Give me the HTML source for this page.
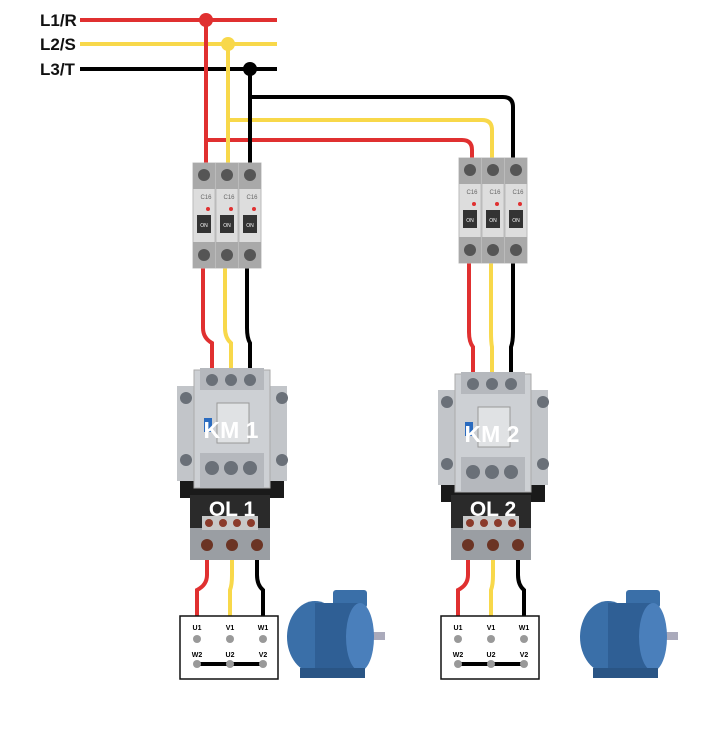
<!DOCTYPE html>
<html><head><meta charset="utf-8"><style>
html,body{margin:0;padding:0;background:#fff}
svg{display:block;font-family:"Liberation Sans",sans-serif}
</style></head><body>
<svg id="d" width="724" height="753" viewBox="0 0 724 753">
<g font-weight="bold" font-size="17" fill="#111">
<text x="40" y="26">L1/R</text><text x="40" y="50">L2/S</text><text x="40" y="75">L3/T</text>
</g>
<g stroke-width="4" fill="none">
<line x1="80" y1="20" x2="277" y2="20" stroke="#e03030"/>
<line x1="80" y1="44" x2="277" y2="44" stroke="#f8d84a"/>
<line x1="80" y1="69" x2="277" y2="69" stroke="#000"/>
</g>
<g stroke-width="4" fill="none">
<path d="M250 69 V97 H503 Q513 97 513 107 V165" stroke="#000"/>
<path d="M228 44 V120 H482 Q492 120 492 130 V165" stroke="#f8d84a"/>
<path d="M206 20 V140 H462 Q472 140 472 150 V165" stroke="#e03030"/>
</g>
<g id="c1"></g>
<g id="c2"></g>
<g>
<circle cx="206" cy="20" r="7" fill="#e03030"/><circle cx="228" cy="44" r="7" fill="#f8d84a"/><circle cx="250" cy="69" r="7" fill="#000"/>
</g>
</svg>
<script>
const NS='http://www.w3.org/2000/svg';
function el(p,t,a,txt){const e=document.createElementNS(NS,t);for(const k in a)e.setAttribute(k,a[k]);if(txt)e.textContent=txt;p.appendChild(e);return e;}
function circuit(g,o){
 const cols=['#e03030','#f8d84a','#000'];
 for(let i=0;i<3;i++){
  const bx=o.bx+10+i*22, kx=o.kx+i*19, ox=o.ox+i*25, tx=o.tx+i*33;
  el(g,'path',{d:`M${o.wx[i]} ${o.wy[i]} V${o.by} M${bx} ${o.by+100} V${o.ky-40} Q${bx} ${o.ky-30} ${kx} ${o.ky-25} V${o.ky+10}`,stroke:cols[i],'stroke-width':4,fill:'none'});
  el(g,'path',{d:`M${ox} 545 V575 Q${ox} 585 ${tx} 590 V625`,stroke:cols[i],'stroke-width':4,fill:'none'});
 }
 const b=el(g,'g',{});
 
 
 for(let i=0;i<3;i++){const x=o.bx+i*23;
  el(b,'rect',{x:x,y:o.by,width:22,height:105,fill:'#ddd',stroke:'#bbb'});
  el(b,'rect',{x:x,y:o.by,width:22,height:26,fill:'#a9a9a9'});
  el(b,'rect',{x:x,y:o.by+79,width:22,height:26,fill:'#a9a9a9'});
  el(b,'circle',{cx:x+11,cy:o.by+12,r:6,fill:'#555'});
  el(b,'circle',{cx:x+11,cy:o.by+92,r:6,fill:'#555'});
  el(b,'rect',{x:x+4,y:o.by+52,width:14,height:18,fill:'#333'});
  el(b,'text',{x:x+11,y:o.by+64,'font-size':5,fill:'#fff','text-anchor':'middle'},'ON');
  el(b,'text',{x:x+13,y:o.by+36,'font-size':6,fill:'#666','text-anchor':'middle'},'C16');
  el(b,'circle',{cx:x+15,cy:o.by+46,r:2,fill:'#e03030'});
 }
 const k=el(g,'g',{});
 
 
 const kx0=o.kx-30;
 el(k,'rect',{x:kx0-2,y:o.ky+90,width:104,height:40,fill:'#1a1a1a'});
 el(k,'rect',{x:kx0-5,y:o.ky+18,width:110,height:95,fill:'#c2c5c9'});
 el(k,'rect',{x:kx0+12,y:o.ky+2,width:76,height:118,fill:'#cdd0d4',stroke:'#aaa'});
 el(k,'rect',{x:kx0+18,y:o.ky,width:64,height:22,fill:'#b5b8bd'});
 el(k,'rect',{x:kx0+18,y:o.ky+85,width:64,height:35,fill:'#b5b8bd'});
 for(let i=0;i<3;i++){el(k,'circle',{cx:o.kx+i*19,cy:o.ky+12,r:6,fill:'#6a7078'});el(k,'circle',{cx:o.kx+i*19,cy:o.ky+100,r:7,fill:'#6a7078'});}
 for(const sx of [kx0-2,kx0+94]){el(k,'circle',{cx:sx+6,cy:o.ky+30,r:6,fill:'#6a7078'});el(k,'circle',{cx:sx+6,cy:o.ky+92,r:6,fill:'#6a7078'});}
 el(k,'rect',{x:kx0+35,y:o.ky+35,width:32,height:40,fill:'#e0e2e4',stroke:'#999'});
 el(k,'rect',{x:kx0+22,y:o.ky+50,width:8,height:14,fill:'#2a6bbf'});
 el(k,'text',{x:o.kx+19,y:o.ky+70,'font-size':23,'font-weight':'bold',fill:'#fff','text-anchor':'middle'},o.km);
 const ol=el(g,'g',{});
 
 
 el(ol,'rect',{x:o.ox-17,y:495,width:80,height:35,fill:'#2a2a2a'});
 el(ol,'rect',{x:o.ox-17,y:528,width:80,height:32,fill:'#9a9ea3'});
 el(ol,'rect',{x:o.ox-5,y:516,width:56,height:14,fill:'#c8c8c8'});
 for(let i=0;i<4;i++)el(ol,'circle',{cx:o.ox+2+i*14,cy:523,r:4,fill:'#8b3a2a'});
 for(let i=0;i<3;i++)el(ol,'circle',{cx:o.ox+i*25,cy:545,r:6,fill:'#6b3424'});
 el(ol,'text',{x:o.ox+25,y:516,'font-size':21,'font-weight':'bold',fill:'#fff','text-anchor':'middle'},o.ol);
 const t=el(g,'g',{});
 
 
 el(t,'rect',{x:o.tx-17,y:616,width:98,height:63,fill:'#fff',stroke:'#111','stroke-width':1.5});
 el(t,'line',{x1:o.tx,y1:664,x2:o.tx+66,y2:664,stroke:'#000','stroke-width':4});
 const top=['U1','V1','W1'],bot=['W2','U2','V2'];
 for(let i=0;i<3;i++){const x=o.tx+i*33;
  el(t,'text',{x:x,y:630,'font-size':7,'font-weight':'bold','text-anchor':'middle'},top[i]);
  el(t,'circle',{cx:x,cy:639,r:4,fill:'#999'});
  el(t,'text',{x:x,y:657,'font-size':7,'font-weight':'bold','text-anchor':'middle'},bot[i]);
  el(t,'circle',{cx:x,cy:664,r:4,fill:'#999'});}
 const m=el(g,'g',{});
 
 
 const mx=o.mx;
 el(m,'rect',{x:mx+78,y:632,width:22,height:8,fill:'#aab'});
 el(m,'rect',{x:mx+48,y:590,width:34,height:18,rx:3,fill:'#3a6fa8'});
 el(m,'ellipse',{cx:mx+30,cy:637,rx:28,ry:36,fill:'#3a6fa8'});
 el(m,'rect',{x:mx+30,y:603,width:45,height:68,fill:'#2f5f95'});
 el(m,'ellipse',{cx:mx+75,cy:637,rx:14,ry:34,fill:'#4a7fbb'});
 el(m,'rect',{x:mx+15,y:668,width:65,height:10,fill:'#2a5585'});
}
circuit(document.getElementById('c1'),{wx:[206,228,250],wy:[20,44,69],bx:193,by:163,kx:212,ky:368,km:'KM 1',ox:207,ol:'OL 1',tx:197,mx:285});
circuit(document.getElementById('c2'),{wx:[473,493,514],wy:[160,160,160],bx:459,by:158,kx:473,ky:372,km:'KM 2',ox:468,ol:'OL 2',tx:458,mx:578});
</script>
</body></html>
